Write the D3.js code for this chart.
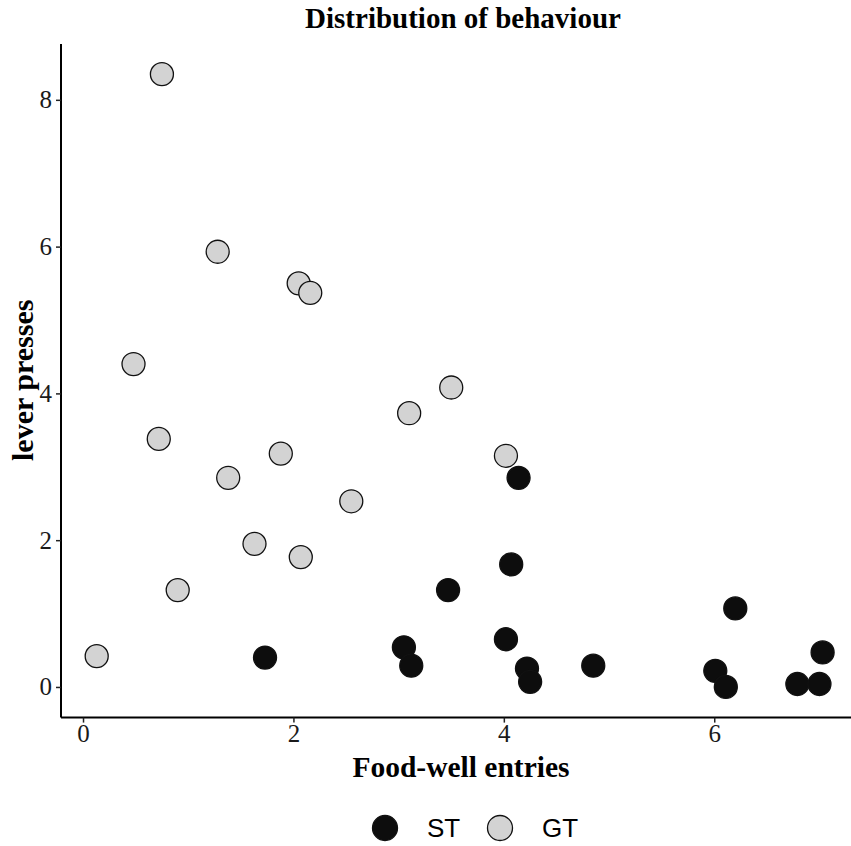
<!DOCTYPE html>
<html>
<head>
<meta charset="utf-8">
<script src="https://cdn.jsdelivr.net/npm/d3@7"></script>
<style>
  html, body { margin: 0; padding: 0; background: #fff; }
  svg { display: block; }
</style>
</head>
<body>
<svg id="chart" width="851" height="846"></svg>
<script>
// Food-well entries (x) and lever presses (y) per animal, by group
const stX = [4.14, 4.07, 3.47, 6.20, 4.02, 1.73, 3.05, 3.12, 4.22, 4.25, 4.85, 6.01, 6.11, 6.79, 7.00, 7.03];
const stY = [2.85, 1.67, 1.32, 1.07, 0.65, 0.40, 0.54, 0.29, 0.25, 0.07, 0.29, 0.22, 0.00, 0.04, 0.04, 0.47];
const gtX = [0.75, 1.28, 2.05, 2.16, 0.48, 3.50, 3.10, 0.72, 1.88, 4.02, 1.38, 2.55, 1.63, 2.07, 0.90, 0.13];
const gtY = [8.35, 5.93, 5.50, 5.37, 4.40, 4.08, 3.73, 3.38, 3.18, 3.15, 2.85, 2.53, 1.95, 1.77, 1.32, 0.42];
const groups = ["ST", "GT"];
const xTicks = [0, 2, 4, 6];
const yTicks = [0, 2, 4, 6, 8];

const fills = { ST: "#0d0d0d", GT: "#d3d3d3" };
const points = [
  ...gtX.map((x, i) => ({ x, y: gtY[i], g: "GT" })),
  ...stX.map((x, i) => ({ x, y: stY[i], g: "ST" }))
];

const svg = d3.select("#chart");
const serif = "'Liberation Serif', 'Times New Roman', serif";
const sans = "'Liberation Sans', Arial, sans-serif";

const panel = { left: 61, right: 851, top: 43, bottom: 717.6 };
const x = d3.scaleLinear().domain([-0.215, 7.375]).range([60.4, 858.9]);
const y = d3.scaleLinear().domain([-0.4175, 8.7675]).range([717.6, 43.5]);

// Points (GT first so ST sits on top where they overlap)
svg.append("g")
  .selectAll("circle")
  .data(points)
  .join("circle")
  .attr("cx", d => x(d.x))
  .attr("cy", d => y(d.y))
  .attr("r", 11.5)
  .attr("fill", d => fills[d.g])
  .attr("stroke", "#111")
  .attr("stroke-width", 1.3);

// Axes
const xAxis = svg.append("g")
  .attr("transform", `translate(0,${panel.bottom})`)
  .call(d3.axisBottom(x).tickValues(xTicks).tickSize(5).tickPadding(2).tickFormat(d3.format("d")));
const yAxis = svg.append("g")
  .attr("transform", `translate(${panel.left},0)`)
  .call(d3.axisLeft(y).tickValues(yTicks).tickSize(5).tickPadding(4).tickFormat(d3.format("d")));

xAxis.select(".domain").attr("d", `M${panel.left},0H${panel.right}`);
yAxis.select(".domain").attr("d", `M0,${panel.top + 1}V${panel.bottom}`);

[xAxis, yAxis].forEach(a => {
  a.select(".domain").attr("stroke", "#000").attr("stroke-width", 2);
  a.selectAll(".tick line").attr("stroke", "#222").attr("stroke-width", 1.5);
  a.selectAll(".tick text")
    .attr("font-family", serif)
    .attr("font-size", 25)
    .attr("fill", "#1a1a1a");
});

// Title and axis titles
svg.append("text")
  .attr("x", 463).attr("y", 28)
  .attr("text-anchor", "middle")
  .attr("font-family", serif).attr("font-weight", "bold").attr("font-size", 29)
  .text("Distribution of behaviour");

svg.append("text")
  .attr("x", 461).attr("y", 777)
  .attr("text-anchor", "middle")
  .attr("font-family", serif).attr("font-weight", "bold").attr("font-size", 29.5)
  .text("Food-well entries");

svg.append("text")
  .attr("transform", `translate(33,${(panel.top + panel.bottom) / 2}) rotate(-90)`)
  .attr("text-anchor", "middle")
  .attr("font-family", serif).attr("font-weight", "bold").attr("font-size", 30)
  .text("lever presses");

// Legend
const legend = svg.append("g");
const legendX = [385, 500];
groups.forEach((g, i) => {
  legend.append("circle")
    .attr("cx", legendX[i]).attr("cy", 828).attr("r", 12.5)
    .attr("fill", fills[g]).attr("stroke", "#111").attr("stroke-width", 1.3);
  legend.append("text")
    .attr("x", legendX[i] + 42).attr("y", 837)
    .attr("font-family", sans).attr("font-size", 26).attr("fill", "#000")
    .text(g);
});
</script>
</body>
</html>
